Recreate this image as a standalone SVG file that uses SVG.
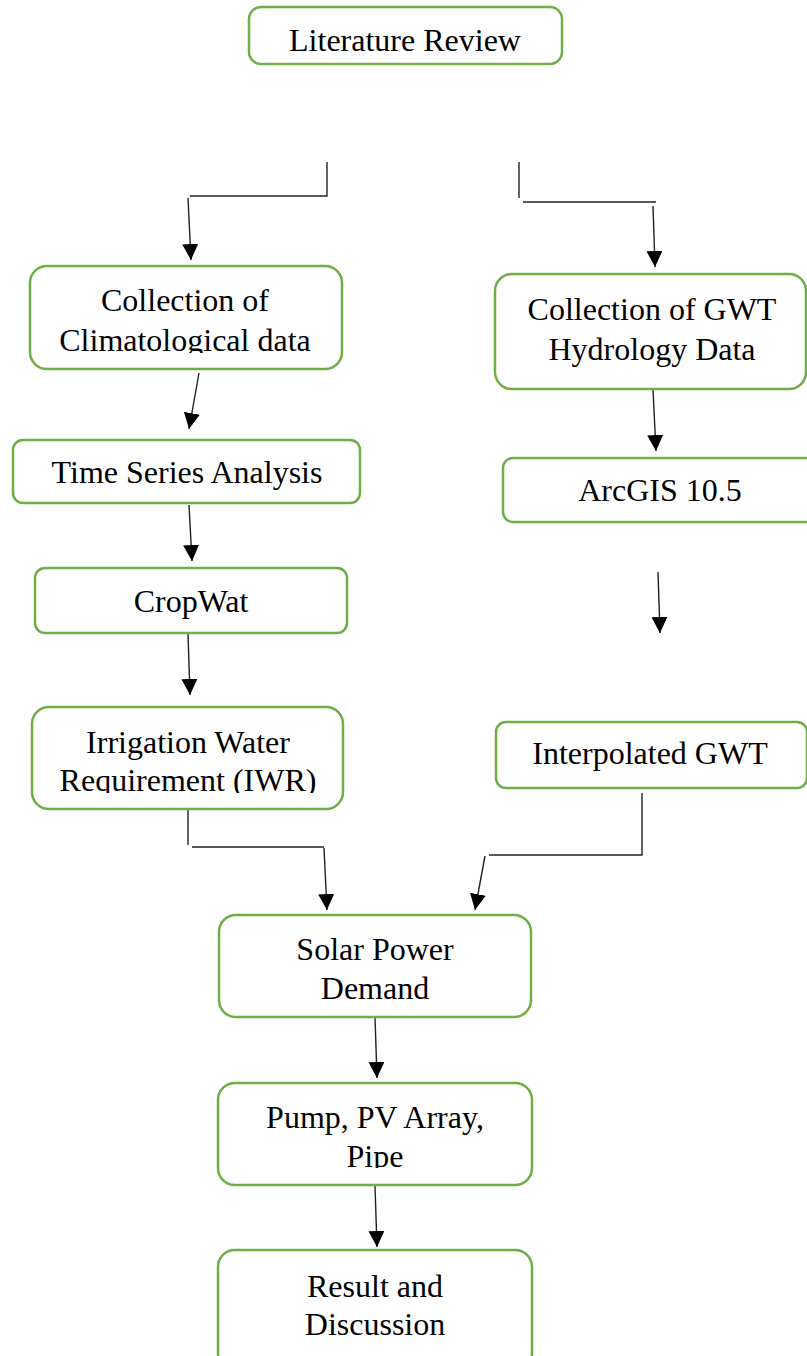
<svg xmlns="http://www.w3.org/2000/svg" width="807" height="1356" viewBox="0 0 807 1356">
<style>
.box{fill:#fff;stroke:#70AD47;stroke-width:2.5}
.t{font-family:"Liberation Serif","Times New Roman",serif;font-size:32px;fill:#000;text-anchor:middle}
.c{fill:none;stroke:#222;stroke-width:1.4}
</style>
<defs>
<marker id="ah" markerUnits="userSpaceOnUse" markerWidth="16" markerHeight="16" viewBox="0 0 16 16" refX="16" refY="8" orient="auto">
<polygon points="0,0 16,8 0,16" fill="#000"/>
</marker>
<clipPath id="clipClim"><rect x="0" y="0" width="807" height="353"/></clipPath>
<clipPath id="clipIwr"><rect x="0" y="0" width="807" height="793"/></clipPath>
<clipPath id="clipPipe"><rect x="0" y="0" width="807" height="1168"/></clipPath>
</defs>
<rect width="807" height="1356" fill="#fff"/>

<g id="connectors">
<polyline class="c" points="327,162 327,196 190,196"/>
<line class="c" x1="188" y1="198" x2="191" y2="260" marker-end="url(#ah)"/>
<polyline class="c" points="519,162 519,198"/>
<line class="c" x1="523" y1="202" x2="656" y2="202"/>
<line class="c" x1="653" y1="206" x2="655" y2="267" marker-end="url(#ah)"/>
<line class="c" x1="199" y1="373" x2="189" y2="429" marker-end="url(#ah)"/>
<line class="c" x1="189" y1="505" x2="192" y2="561" marker-end="url(#ah)"/>
<line class="c" x1="188" y1="634" x2="190" y2="695" marker-end="url(#ah)"/>
<line class="c" x1="653" y1="390" x2="656" y2="451" marker-end="url(#ah)"/>
<line class="c" x1="658" y1="572" x2="660" y2="633" marker-end="url(#ah)"/>
<line class="c" x1="188" y1="809" x2="188" y2="845"/>
<line class="c" x1="192" y1="847" x2="324" y2="847"/>
<line class="c" x1="324" y1="848" x2="327" y2="910" marker-end="url(#ah)"/>
<polyline class="c" points="642,793 642,855 489,855"/>
<line class="c" x1="485" y1="856" x2="475" y2="910" marker-end="url(#ah)"/>
<line class="c" x1="375" y1="1017" x2="377" y2="1078" marker-end="url(#ah)"/>
<line class="c" x1="375" y1="1186" x2="377" y2="1247" marker-end="url(#ah)"/>
</g>

<g id="literature-review">
<rect class="box" x="249" y="7" width="313" height="57" rx="12"/>
<text class="t" x="405" y="51">Literature Review</text>
</g>

<g id="collection-climatological">
<rect class="box" x="30" y="266" width="312" height="103" rx="17"/>
<g clip-path="url(#clipClim)">
<text class="t" x="185" y="311">Collection of</text>
<text class="t" x="185" y="351">Climatological data</text>
</g>
</g>

<g id="collection-gwt">
<rect class="box" x="495" y="274" width="311" height="115" rx="17"/>
<text class="t" x="652" y="320">Collection of GWT</text>
<text class="t" x="652" y="360">Hydrology Data</text>
</g>

<g id="time-series">
<rect class="box" x="13" y="440" width="347" height="63" rx="10"/>
<text class="t" x="187" y="483">Time Series Analysis</text>
</g>

<g id="arcgis">
<rect class="box" x="503" y="458" width="314" height="64" rx="10"/>
<text class="t" x="660" y="501">ArcGIS 10.5</text>
</g>

<g id="cropwat">
<rect class="box" x="35" y="568" width="312" height="65" rx="10"/>
<text class="t" x="191" y="612">CropWat</text>
</g>

<g id="irrigation">
<rect class="box" x="32" y="707" width="311" height="102" rx="17"/>
<g clip-path="url(#clipIwr)">
<text class="t" x="188" y="753">Irrigation Water</text>
<text class="t" x="188" y="791">Requirement (IWR)</text>
</g>
</g>

<g id="interpolated-gwt">
<rect class="box" x="496" y="722" width="311" height="66" rx="10"/>
<text class="t" x="650" y="764">Interpolated GWT</text>
</g>

<g id="solar-power">
<rect class="box" x="219" y="915" width="312" height="102" rx="17"/>
<text class="t" x="375" y="960">Solar Power</text>
<text class="t" x="375" y="999">Demand</text>
</g>

<g id="pump">
<rect class="box" x="218" y="1083" width="314" height="102" rx="17"/>
<g clip-path="url(#clipPipe)">
<text class="t" x="375" y="1128">Pump, PV Array,</text>
<text class="t" x="375" y="1167">Pipe</text>
</g>
</g>

<g id="result">
<rect class="box" x="218" y="1250" width="314" height="120" rx="17"/>
<text class="t" x="375" y="1297">Result and</text>
<text class="t" x="375" y="1335">Discussion</text>
</g>
</svg>
